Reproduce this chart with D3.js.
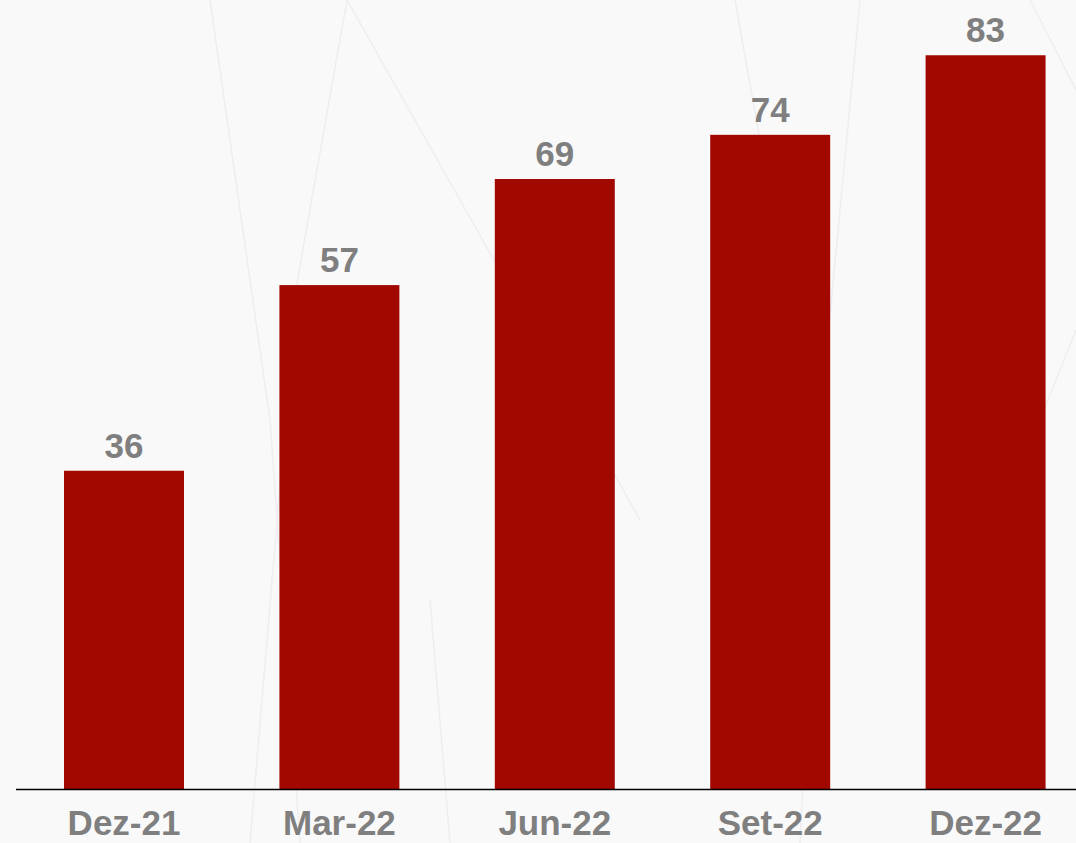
<!DOCTYPE html>
<html>
<head>
<meta charset="utf-8">
<script src="https://cdn.jsdelivr.net/npm/d3@7"></script>
<style>
  html, body { margin: 0; padding: 0; background: #f9f9fa; overflow: hidden; }
  svg { display: block; }
</style>
</head>
<body>
<svg id="chart" width="1076" height="843"></svg>
<script>
const categories = ["Dez-21", "Mar-22", "Jun-22", "Set-22", "Dez-22"];
const values = [36, 57, 69, 74, 83];

const W = 1076, H = 843;
const svg = d3.select("#chart");
const font = "'Liberation Sans', Arial, sans-serif";

// faint decorative background lines
const deco = [
  [[210, 0], [270, 420], [300, 843]],
  [[347, 0], [297, 283], [250, 843]],
  [[347, 0], [477, 230], [640, 520]],
  [[430, 600], [450, 843]],
  [[735, 0], [760, 140]],
  [[860, 0], [820, 420], [800, 843]],
  [[1030, 0], [1076, 90]],
  [[1040, 420], [1076, 330]]
];
svg.append("rect").attr("width", W).attr("height", H).attr("fill", "#f9f9fa");
svg.append("g").selectAll("path").data(deco).join("path")
  .attr("d", d => d3.line()(d))
  .attr("fill", "none").attr("stroke", "#eeeef0").attr("stroke-width", 1.5);

const x = d3.scaleBand().domain(categories).range([-0.6, 1110.2])
  .paddingInner(0.443).paddingOuter(0.3);
const y = d3.scaleLinear().domain([0, 89.25]).range([789, 0]);

const data = categories.map((c, i) => ({ c, v: values[i] }));

svg.append("g").selectAll("rect").data(data).join("rect")
  .attr("x", d => x(d.c))
  .attr("y", d => y(d.v))
  .attr("width", x.bandwidth())
  .attr("height", d => y(0) - y(d.v))
  .attr("fill", "#a00800");

svg.append("g").selectAll("text").data(data).join("text")
  .attr("x", d => x(d.c) + x.bandwidth() / 2)
  .attr("y", d => y(d.v) - 13)
  .attr("text-anchor", "middle")
  .attr("font-family", font)
  .attr("font-weight", "bold")
  .attr("font-size", 35)
  .attr("fill", "#7f7f7f")
  .text(d => d.v);

// baseline
svg.append("line")
  .attr("x1", 16).attr("x2", W)
  .attr("y1", y(0) + 0.5).attr("y2", y(0) + 0.5)
  .attr("stroke", "#000").attr("stroke-width", 1.6);

const axis = svg.append("g")
  .attr("transform", `translate(0,${y(0)})`)
  .call(d3.axisBottom(x).tickSize(0));
axis.select(".domain").remove();
axis.selectAll("text")
  .attr("y", 46).attr("dy", 0)
  .attr("font-family", font)
  .attr("font-weight", "bold")
  .attr("font-size", 35)
  .attr("fill", "#7f7f7f");
</script>
</body>
</html>
